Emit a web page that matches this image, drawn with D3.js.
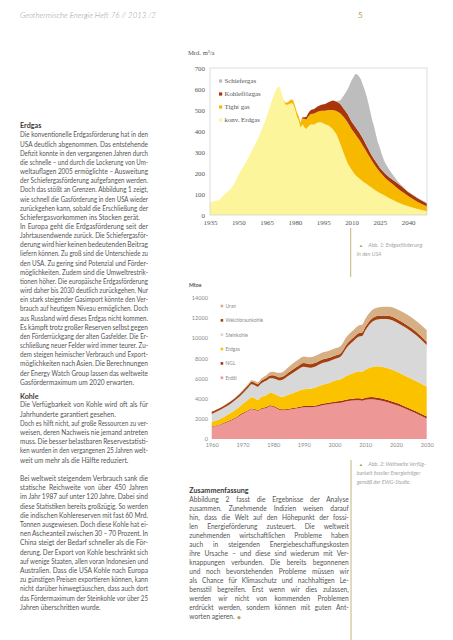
<!DOCTYPE html>
<html><head><meta charset="utf-8">
<script src="https://cdn.jsdelivr.net/npm/d3@7"></script>
<style>html,body{margin:0;padding:0;background:#fff;}svg{display:block}</style>
</head><body><svg id="page" width="453" height="640"></svg>
<script>
// ---------- Chart 1: Erdgasförderung USA (Mrd. m³/a) ----------
const years1 = [1935,1938,1940,1942,1944,1946,1948,1950,1952,1954,1956,1958,1960,1962,1964,1966,1968,1970,1971,1972,1973,1974,1975,1976,1977,1978,1979,1980,1981,1982,1983,1984,1985,1986,1987,1988,1989,1990,1992,1994,1996,1998,2000,2002,2004,2006,2008,2010,2012,2013,2014,2015,2016,2017,2018,2019,2020,2021,2022,2023,2024,2025,2026,2027,2028,2030,2032,2034,2036,2038,2040,2045,2050];
const konvErdgas = [60,68,72,92,108,125,150,188,222,250,285,320,356,398,442,495,550,598,610,608,580,548,525,525,528,532,530,505,470,450,415,432,418,410,420,428,432,430,440,442,432,425,410,385,340,290,245,215,190,182,175,168,160,154,148,141,135,128,122,116,110,105,100,95,90,80,71,62,55,48,42,28,18];
const tightGas = [0,0,0,0,0,0,0,0,0,0,0,0,0,0,0,0,0,0,0,0,0,0,10,12,15,18,18,18,20,22,25,28,40,45,48,50,50,52,52,55,65,75,90,110,145,175,195,195,195,190,185,177,170,161,152,144,135,128,120,113,107,100,95,90,85,80,74,68,61,55,48,34,22];
const kohlefloezgas = [0,0,0,0,0,0,0,0,0,0,0,0,0,0,0,0,0,0,0,0,0,0,0,0,0,0,0,0,0,0,0,5,8,12,15,18,20,22,25,28,32,38,45,45,45,40,40,35,35,35,35,35,35,33,30,28,25,24,23,23,22,20,20,20,20,20,22,23,24,22,20,18,15];
const schiefergas = [0,0,0,0,0,0,0,0,0,0,0,0,0,0,0,0,0,0,0,0,0,0,0,0,0,0,0,0,0,0,0,0,0,0,0,0,0,0,0,0,0,0,0,3,15,65,120,195,252,263,265,265,255,247,235,217,195,170,155,128,106,95,75,60,50,35,23,12,5,3,2,2,2];
const series1 = ["konv. Erdgas","Tight gas","Kohleflözgas","Schiefergas"];
const legend1 = ["Schiefergas","Kohleflözgas","Tight gas","konv. Erdgas"];
const yTicks1 = [0,100,200,300,400,500,600,700];
const xTicks1 = [1935,1950,1965,1980,1995,2010,2025,2040];

// ---------- Chart 2: Weltweite Verfügbarkeit fossiler Energieträger (Mtoe) ----------
const years2 = [1960,1962,1964,1966,1968,1970,1972,1973,1974,1975,1976,1978,1979,1980,1981,1982,1983,1985,1988,1990,1992,1994,1996,1998,2000,2002,2004,2006,2008,2009,2010,2012,2014,2016,2018,2020,2022,2025,2028,2030];
const erdoel = [1200,1350,1550,1800,2100,2500,2800,2950,2900,2800,2950,3100,3250,3200,3050,2900,2850,2900,3050,3150,3150,3200,3350,3450,3550,3600,3750,3820,3850,3800,3900,3950,3880,3750,3580,3380,3150,2750,2350,2050];
const ngl = [50,50,60,70,70,80,90,90,90,90,90,100,100,100,100,100,100,110,120,130,140,140,150,150,160,170,180,190,200,200,210,220,230,230,230,220,220,200,190,180];
const erdgas = [450,500,590,680,780,870,1060,1110,1060,1010,1110,1200,1250,1250,1250,1250,1250,1390,1580,1670,1710,1810,1900,1950,2090,2180,2370,2540,2700,2700,2790,2980,3140,3170,3190,3150,3080,3050,3010,2970];
const steinkohle = [800,880,900,930,1000,1050,1200,1300,1300,1300,1350,1450,1450,1500,1550,1600,1700,1900,2150,2250,2100,2100,2150,2150,2150,2250,2800,3150,3450,3550,3900,4450,4650,4800,4900,4900,4850,4700,4400,4150];
const weichbraunkohle = [200,200,210,220,230,250,250,250,250,250,250,270,280,300,300,300,300,320,340,350,350,350,350,350,330,330,350,350,350,350,350,350,350,350,350,350,350,340,330,300];
const uran = [0,10,20,30,50,80,130,150,180,200,230,280,320,330,370,430,450,550,610,660,680,700,700,710,720,730,750,750,770,780,780,800,830,850,900,950,1000,1080,1120,1170];
const series2 = ["Erdöl","NGL","Erdgas","Steinkohle","Weichbraunkohle","Uran"];
const legend2 = ["Uran","Weichbraunkohle","Steinkohle","Erdgas","NGL","Erdöl"];
const yTicks2 = [0,2000,4000,6000,8000,10000,12000,14000];
const xTicks2 = [1960,1970,1980,1990,2000,2010,2020,2030];

// ---------- Texts ----------
const header = "Geothermische Energie Heft 76 // 2013 /2";
const pageNo = "5";
const erdgasText = [
"Die konventionelle Erdgasförderung hat in den",
"USA deutlich abgenommen. Das entstehende",
"Defizit konnte in den vergangenen Jahren durch",
"die schnelle – und durch die Lockerung von Um-",
"weltauflagen 2005 ermöglichte – Ausweitung",
"der Schiefergasförderung aufgefangen werden.",
"Doch das stößt an Grenzen. Abbildung 1 zeigt,",
"wie schnell die Gasförderung in den USA wieder",
"zurückgehen kann, sobald die Erschließung der",
"Schiefergasvorkommen ins Stocken gerät.¶",
"In Europa geht die Erdgasförderung seit der",
"Jahrtausendwende zurück. Die Schiefergasför-",
"derung wird hier keinen bedeutenden Beitrag",
"liefern können. Zu groß sind die Unterschiede zu",
"den USA. Zu gering sind Potenzial und Förder-",
"möglichkeiten. Zudem sind die Umweltrestrik-",
"tionen höher. Die europäische Erdgasförderung",
"wird daher bis 2030 deutlich zurückgehen. Nur",
"ein stark steigender Gasimport könnte den Ver-",
"brauch auf heutigem Niveau ermöglichen. Doch",
"aus Russland wird dieses Erdgas nicht kommen.",
"Es kämpft trotz großer Reserven selbst gegen",
"den Förderrückgang der alten Gasfelder. Die Er-",
"schließung neuer Felder wird immer teurer. Zu-",
"dem steigen heimischer Verbrauch und Export-",
"möglichkeiten nach Asien. Die Berechnungen",
"der Energy Watch Group lassen das weltweite",
"Gasfördermaximum um 2020 erwarten.¶"];
const kohleText = [
"Die Verfügbarkeit von Kohle wird oft als für",
"Jahrhunderte garantiert gesehen.¶",
"Doch es hilft nicht, auf große Ressourcen zu ver-",
"weisen, deren Nachweis nie jemand antreten",
"muss. Die besser belastbaren Reservestatisti-",
"ken wurden in den vergangenen 25 Jahren welt-",
"weit um mehr als die Hälfte reduziert.¶",
"",
"Bei weltweit steigendem Verbrauch sank die",
"statische Reichweite von über 450 Jahren",
"im Jahr 1987 auf unter 120 Jahre. Dabei sind",
"diese Statistiken bereits großzügig. So werden",
"die indischen Kohlereserven mit fast 60 Mrd.",
"Tonnen ausgewiesen. Doch diese Kohle hat ei-",
"nen Ascheanteil zwischen 30 – 70 Prozent. In",
"China steigt der Bedarf schneller als die För-",
"derung. Der Export von Kohle beschränkt sich",
"auf wenige Staaten, allen voran Indonesien und",
"Australien. Dass die USA Kohle nach Europa",
"zu günstigen Preisen exportieren können, kann",
"nicht darüber hinwegtäuschen, dass auch dort",
"das Fördermaximum der Steinkohle vor über 25",
"Jahren überschritten wurde.¶"];
const summaryText = [
"Abbildung 2 fasst die Ergebnisse der Analyse",
"zusammen. Zunehmende Indizien weisen darauf",
"hin, dass die Welt auf den Höhepunkt der fossi-",
"len Energieförderung zusteuert. Die weltweit",
"zunehmenden wirtschaftlichen Probleme haben",
"auch in steigenden Energiebeschaffungskosten",
"ihre Ursache – und diese sind wiederum mit Ver-",
"knappungen verbunden. Die bereits begonnenen",
"und noch bevorstehenden Probleme müssen wir",
"als Chance für Klimaschutz und nachhaltigen Le-",
"bensstil begreifen. Erst wenn wir dies zulassen,",
"werden wir nicht von kommenden Problemen",
"erdrückt werden, sondern können mit guten Ant-",
"worten agieren.¶"];
const caption1 = ["Abb. 1: Erdgasförderung","in den USA"];
const caption2 = ["Abb. 2: Weltweite Verfüg-","barkeit fossiler Energieträger","gemäß der EWG-Studie."];

// ---------- Drawing ----------
const svg = d3.select("#page");
svg.append("rect").attr("width",453).attr("height",640).attr("fill","#fff");
const GOLD = "#b8a05c";
const BODY = "Lato, 'Open Sans', sans-serif";

svg.append("text").attr("x",20).attr("y",18.3).attr("font-family",BODY).attr("font-style","italic")
  .attr("font-weight",300).attr("font-size",7.8).attr("fill","#9a9a9a").text(header);
svg.append("text").attr("x",358).attr("y",18.3).attr("font-family",BODY).attr("font-size",8)
  .attr("fill",GOLD).text(pageNo);

function justify(t, width){
  const s = t.text(); const n = (s.match(/ /g)||[]).length;
  const w = t.node().getComputedTextLength();
  if(n>0){
    const ws=(width-w)/n;
    if(ws>-0.6) t.style("word-spacing", ws+"px");
    else t.attr("textLength",width).attr("lengthAdjust","spacingAndGlyphs");
  }
}
function para(lines, x0, width, y0, lh, diamondLast){
  const g = svg.append("g").attr("font-family",BODY).attr("font-size",6.6).attr("fill","#555");
  lines.forEach((l,i)=>{
    if(!l) return;
    const end = l.endsWith("¶");
    const txt = end ? l.slice(0,-1) : l;
    const t = g.append("text").attr("x",x0).attr("y",y0+i*lh).text(txt);
    if(!end) justify(t,width);
    if(end && diamondLast && i===lines.length-1){
      t.append("tspan").attr("fill",GOLD).attr("font-size",5).attr("dx",2).text("◆");
    }
  });
}
function heading(s,x,y){
  svg.append("text").attr("x",x).attr("y",y).attr("font-family",BODY).attr("font-weight",700)
   .attr("font-size",7.2).attr("fill","#3a3a3a").text(s);
}
heading("Erdgas",20,127.6);
para(erdgasText,20,128,137.4,9.16);
heading("Kohle",20,399.2);
para(kohleText,20,128,407.4,9.2);
heading("Zusammenfassung",189.3,493);
para(summaryText,189.3,159.5,502.4,8.98,true);

// gold rules + captions
svg.append("line").attr("x1",350.7).attr("x2",350.7).attr("y1",228).attr("y2",277).attr("stroke",GOLD).attr("stroke-width",0.8);
svg.append("line").attr("x1",351).attr("x2",351).attr("y1",460).attr("y2",640).attr("stroke",GOLD).attr("stroke-width",0.8);
function caption(lines,y0){
  const g = svg.append("g").attr("font-family",BODY).attr("font-style","italic").attr("font-size",5.4).attr("fill","#a5a5a5");
  g.append("text").attr("x",358.8).attr("y",y0).attr("fill",GOLD).attr("font-style","normal").attr("font-size",4.5).text("▲");
  lines.forEach((l,i)=>g.append("text").attr("x",i===0?368.3:356.8).attr("y",y0+i*9.1).text(l));
}
caption(caption1,246.6);
caption(caption2,466);

// ---- Chart 1 ----
const x1 = d3.scaleLinear().domain([1935,2050]).range([210,427]);
const y1 = d3.scaleLinear().domain([0,700]).range([215,68]);
const rows1 = years1.map((y,i)=>({year:y,"konv. Erdgas":konvErdgas[i],"Tight gas":tightGas[i],"Kohleflözgas":kohlefloezgas[i],"Schiefergas":schiefergas[i]}));
const stack1 = d3.stack().keys(series1)(rows1);
const col1 = {"konv. Erdgas":"#fdf59c","Tight gas":"#f7b900","Kohleflözgas":"#a8360a","Schiefergas":"#bdbdbd"};
const area1 = d3.area().x(d=>x1(d.data.year)).y0(d=>y1(d[0])).y1(d=>y1(d[1]));
const c1 = svg.append("g");
c1.selectAll("path").data(stack1).join("path").attr("d",area1).attr("fill",d=>col1[d.key]);
c1.append("rect").attr("x",210).attr("y",68).attr("width",217).attr("height",147)
  .attr("fill","none").attr("stroke","#cfcfcf").attr("stroke-width",0.7);
const SERIF = "'Liberation Serif', 'DejaVu Serif', serif";
const ax1 = c1.append("g").attr("transform","translate(210,0)")
  .call(d3.axisLeft(y1).tickValues(yTicks1).tickSize(0).tickPadding(5));
const ax1b = c1.append("g").attr("transform","translate(0,215)")
  .call(d3.axisBottom(x1).tickValues(xTicks1).tickFormat(d3.format("d")).tickSize(0).tickPadding(5));
[ax1,ax1b].forEach(a=>{a.select(".domain").remove();
  a.selectAll("text").attr("font-family",SERIF).attr("font-size",6.9).attr("fill","#555");});
c1.append("text").attr("x",188).attr("y",55.3).attr("font-family",SERIF).attr("font-size",6.6).attr("fill","#555").text("Mrd. m³/a");
const lg1 = c1.append("g");
legend1.forEach((k,i)=>{
  const yy = 81 + i*13;
  lg1.append("rect").attr("x",219).attr("y",yy-1.6).attr("width",3.2).attr("height",3.2).attr("fill",col1[k]);
  lg1.append("text").attr("x",224.5).attr("y",yy+2.2).attr("font-family",SERIF).attr("font-size",6.8).attr("fill","#555").text(k);
});

// ---- Chart 2 ----
const x2 = d3.scaleLinear().domain([1960,2030]).range([211.7,426.7]);
const y2 = d3.scaleLinear().domain([0,14000]).range([439,298.3]);
const rows2 = years2.map((y,i)=>({year:y,"Erdöl":erdoel[i],"NGL":ngl[i],"Erdgas":erdgas[i],"Steinkohle":steinkohle[i],"Weichbraunkohle":weichbraunkohle[i],"Uran":uran[i]}));
const stack2 = d3.stack().keys(series2)(rows2);
const col2 = {"Erdöl":"#ee9797","NGL":"#a4340e","Erdgas":"#fbc200","Steinkohle":"#d8d8d8","Weichbraunkohle":"#a4400f","Uran":"#d6b084"};
const area2 = d3.area().curve(d3.curveMonotoneX).x(d=>x2(d.data.year)).y0(d=>y2(d[0])).y1(d=>y2(d[1]));
const c2 = svg.append("g");
c2.selectAll("path").data(stack2).join("path").attr("d",area2).attr("fill",d=>col2[d.key]);
const ax2 = c2.append("g").attr("transform","translate(211.7,0)")
  .call(d3.axisLeft(y2).tickValues(yTicks2).tickSize(0).tickPadding(3.7).tickFormat(d3.format("d")));
const ax2b = c2.append("g").attr("transform","translate(0,439)")
  .call(d3.axisBottom(x2).tickValues(xTicks2).tickSize(0).tickPadding(4.2).tickFormat(d3.format("d")));
[ax2,ax2b].forEach(a=>{a.select(".domain").remove();
  a.selectAll("text").attr("font-family",BODY).attr("font-size",5.6).attr("fill","#8a8a8a");});
ax2.selectAll("text").attr("dy","0.25em");
c2.append("text").attr("x",189).attr("y",287).attr("font-family",BODY).attr("font-weight",700).attr("font-size",5.2).attr("fill","#555").text("Mtoe");
const lg2 = c2.append("g");
legend2.forEach((k,i)=>{
  const yy = 306 + i*14.35;
  lg2.append("rect").attr("x",220.6).attr("y",yy-1.3).attr("width",2.6).attr("height",2.6).attr("fill",col2[k]);
  lg2.append("text").attr("x",225.6).attr("y",yy+1.8).attr("font-family",BODY).attr("font-size",4.9).attr("fill","#8a8a8a").text(k);
});
</script></body></html>
